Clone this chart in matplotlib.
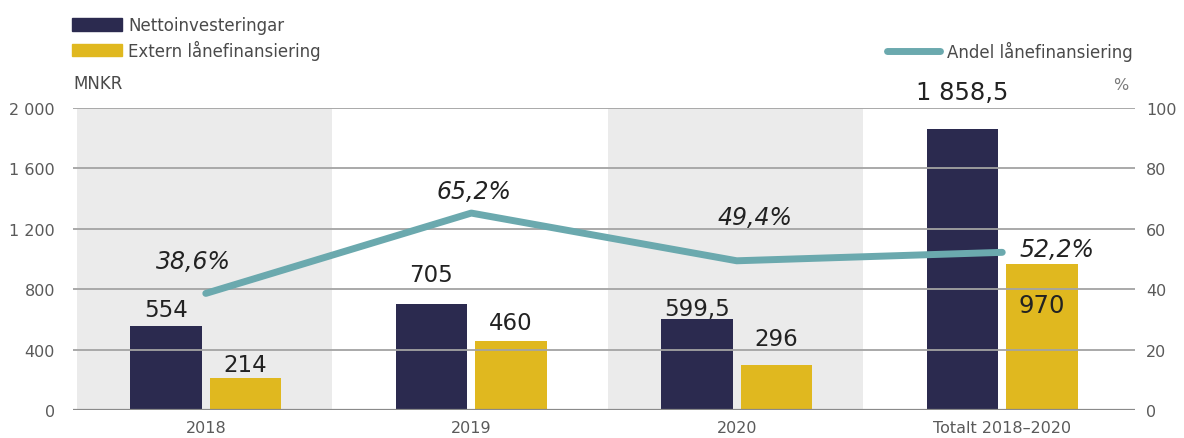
import numpy as np
import matplotlib.pyplot as plt
from matplotlib.patches import Patch
from matplotlib.lines import Line2D

plt.rcParams['font.family'] = ['DejaVu Sans']

# data
categories = ['2018', '2019', '2020', 'Totalt 2018–2020']
netto = [554, 705, 599.5, 1858.5]
lan = [214, 460, 296, 970]
andel = [38.6, 65.2, 49.4, 52.2]
netto_labels = ['554', '705', '599,5', '1 858,5']
lan_labels = ['214', '460', '296', '970']
andel_labels = ['38,6%', '65,2%', '49,4%', '52,2%']

# label offsets in pixels (baseline relative to bar top / line point)
netto_off = [10, 23, 4, 30]
lan_off = [7, 12, 20, -48]
andel_off = [(-12, 25), (3, 15), (18, 37), (17, -4)]

navy = '#2b2a4f'
yellow = '#e0b81f'
teal = '#6ba9ae'
grid = '#a3a3a3'

fig = plt.figure(figsize=(11.84, 4.39), dpi=100)
ax = fig.add_axes([0.0617, 0.0638, 0.8969, 0.688])
x = np.arange(len(categories))
w = 0.27
off = 0.15

# shaded background columns
for i in [0, 2]:
    ax.axvspan(max(i - 0.485, -0.5), i + 0.475, color='#ebebeb', zorder=0, lw=0)

ax.set_xlim(-0.5, 3.5)
ax.set_ylim(0, 2000)
ax.set_yticks([0, 400, 800, 1200, 1600, 2000])
ax.set_yticklabels(['0', '400', '800', '1 200', '1 600', '2 000'])
ax.grid(axis='y', color=grid, lw=1.3, zorder=1)
ax.set_axisbelow(False)

ax.bar(x - off, netto, w, color=navy, zorder=2)
ax.bar(x + off, lan, w, color=yellow, zorder=2)

for spine in ax.spines.values():
    spine.set_visible(False)
ax.axhline(0, color='#8a8a8a', lw=1.6, zorder=3)
ax.tick_params(axis='y', length=0, pad=13, labelsize=11.5, labelcolor='#5a5a5a')
ax.tick_params(axis='x', length=0, pad=7, labelsize=11.5, labelcolor='#5a5a5a')
ax.set_xticks(x)
ax.set_xticklabels(categories)

# value labels on bars
for i in range(len(categories)):
    fs = 17.5 if i == 3 else 16.5
    ax.annotate(netto_labels[i], (x[i] - off, netto[i]), xytext=(0, netto_off[i]),
                textcoords='offset pixels', ha='center', va='baseline',
                fontsize=fs, color='#222222', zorder=5)
    ax.annotate(lan_labels[i], (x[i] + off, lan[i]), xytext=(0, lan_off[i]),
                textcoords='offset pixels', ha='center', va='baseline',
                fontsize=fs, color='#222222', zorder=5)

# share of loan financing on right axis
ax2 = ax.twinx()
ax2.set_ylim(0, 100)
ax2.set_yticks([0, 20, 40, 60, 80, 100])
for spine in ax2.spines.values():
    spine.set_visible(False)
ax2.tick_params(axis='y', length=0, pad=8, labelsize=11.5, labelcolor='#5a5a5a')
ax2.plot(x, andel, color=teal, lw=5, solid_capstyle='round', zorder=4)

for i in range(len(categories)):
    ha = 'left' if i == 3 else 'center'
    ax2.annotate(andel_labels[i], (x[i], andel[i]), xytext=andel_off[i],
                 textcoords='offset pixels', ha=ha, va='baseline',
                 fontsize=17, style='italic', color='#222222')

# legends and unit labels
h1 = [Patch(color=navy), Patch(color=yellow)]
fig.legend(h1, ['Nettoinvesteringar', 'Extern lånefinansiering'],
           loc='upper left', bbox_to_anchor=(0.0608, 0.961), frameon=False,
           fontsize=12, handlelength=3.0, handleheight=0.78, labelspacing=0.33,
           handletextpad=0.36, borderpad=0, borderaxespad=0, labelcolor='#4a4a4a')
h2 = [Line2D([0], [0], color=teal, lw=5, solid_capstyle='round')]
fig.legend(h2, ['Andel lånefinansiering'], loc='upper right',
           bbox_to_anchor=(0.957, 0.904), frameon=False, fontsize=12,
           handlelength=3.2, handletextpad=0.45, borderpad=0, borderaxespad=0,
           labelcolor='#4a4a4a')

fig.text(73 / 1184, 1 - 84 / 439, 'MNKR', fontsize=12, color='#4a4a4a', va='center')
fig.text(1121 / 1184, 1 - 85 / 439, '%', fontsize=11.5, color='#7a7a7a', va='center', ha='center')

fig.savefig('out.png', dpi=100)
